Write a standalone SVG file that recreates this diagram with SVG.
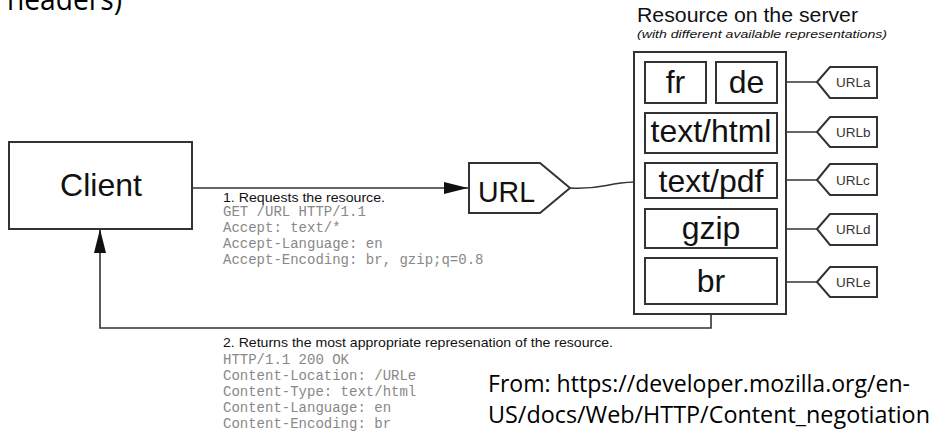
<svg xmlns="http://www.w3.org/2000/svg" width="938" height="436" viewBox="0 0 938 436">
<style>
.box{fill:#fff;stroke:#333;stroke-width:2}
.ln{fill:none;stroke:#333;stroke-width:1.6}
.sans{font-family:"Liberation Sans",Arial,sans-serif;fill:#111}
.big{font-size:32px;text-anchor:middle}
.tag{font-size:13.5px;fill:#333}
.mono{font-family:"Liberation Mono","Courier New",monospace;font-size:14px;fill:#888}
.lbl{font-size:13.5px}
.cal{font-family:"Open Sans","Noto Sans",sans-serif;fill:#000}
</style>
<defs>
<marker id="ah" viewBox="0 0 24 12" refX="24" refY="6" markerWidth="24" markerHeight="12" markerUnits="userSpaceOnUse" orient="auto">
<path d="M0,0 L24,6 L0,12 Z" fill="#111"/>
</marker>
</defs>
<rect width="938" height="436" fill="#fff"/>
<text class="cal" x="7" y="10" font-size="31" textLength="115" lengthAdjust="spacingAndGlyphs">headers)</text>

<g id="connectors">
<path class="ln" d="M192,188 H468" marker-end="url(#ah)"/>
<path class="ln" d="M570,188 C600,190 606,183 634,182"/>
<path class="ln" d="M777,82 H817"/>
<path class="ln" d="M777,132 H817"/>
<path class="ln" d="M777,180 H817"/>
<path class="ln" d="M777,229 H817"/>
<path class="ln" d="M777,282 H817"/>
<path class="ln" d="M711,304 V328 H100 V229" marker-end="url(#ah)"/>
</g>

<g id="client">
<rect class="box" x="9" y="142" width="183" height="87"/>
<text class="sans big" x="101" y="196">Client</text>
</g>

<g id="url">
<path class="box" d="M469,163 H540 L570,188 L540,213 H469 Z"/>
<text class="sans" x="478" y="202" font-size="30" textLength="57" lengthAdjust="spacingAndGlyphs">URL</text>
</g>

<g id="resource">
<text class="sans" x="637" y="22" font-size="19.5" textLength="221" lengthAdjust="spacingAndGlyphs">Resource on the server</text>
<text class="sans" x="637" y="38" font-size="11" font-style="italic" fill="#333" textLength="250" lengthAdjust="spacingAndGlyphs">(with different available representations)</text>
<rect class="box" x="634" y="52" width="152" height="262"/>
</g>

<g id="fr"><rect class="box" x="645" y="62" width="61" height="41"/><text class="sans big" x="675.5" y="93">fr</text></g>
<g id="de"><rect class="box" x="716" y="62" width="61" height="41"/><text class="sans big" x="746.5" y="93">de</text></g>
<g id="text-html"><rect class="box" x="645" y="113" width="132" height="40"/><text class="sans big" x="711" y="142">text/html</text></g>
<g id="text-pdf"><rect class="box" x="645" y="163" width="132" height="35"/><text class="sans big" x="711" y="192">text/pdf</text></g>
<g id="gzip"><rect class="box" x="645" y="209" width="132" height="39"/><text class="sans big" x="711" y="239">gzip</text></g>
<g id="br"><rect class="box" x="645" y="258" width="132" height="46"/><text class="sans big" x="711" y="292">br</text></g>

<g id="urla"><path class="box" d="M817,82 L830,67 H877 V98 H830 Z"/><text class="sans tag" x="836" y="87">URLa</text></g>
<g id="urlb"><path class="box" d="M817,132 L830,117 H877 V147 H830 Z"/><text class="sans tag" x="836" y="137">URLb</text></g>
<g id="urlc"><path class="box" d="M817,180 L830,164 H877 V195 H830 Z"/><text class="sans tag" x="836" y="185">URLc</text></g>
<g id="urld"><path class="box" d="M817,229 L830,214 H877 V245 H830 Z"/><text class="sans tag" x="836" y="234">URLd</text></g>
<g id="urle"><path class="box" d="M817,282 L830,267 H877 V297 H830 Z"/><text class="sans tag" x="836" y="287">URLe</text></g>

<g id="request-label">
<text class="sans lbl" x="223" y="202" textLength="162" lengthAdjust="spacingAndGlyphs">1. Requests the resource.</text>
<text class="mono" x="223" y="216">GET /URL HTTP/1.1</text>
<text class="mono" x="223" y="232">Accept: text/*</text>
<text class="mono" x="223" y="248">Accept-Language: en</text>
<text class="mono" x="223" y="264">Accept-Encoding: br, gzip;q=0.8</text>
</g>

<g id="response-label">
<text class="sans lbl" x="223" y="347" textLength="390" lengthAdjust="spacingAndGlyphs">2. Returns the most appropriate represenation of the resource.</text>
<text class="mono" x="223" y="364">HTTP/1.1 200 OK</text>
<text class="mono" x="223" y="380">Content-Location: /URLe</text>
<text class="mono" x="223" y="396">Content-Type: text/html</text>
<text class="mono" x="223" y="412">Content-Language: en</text>
<text class="mono" x="223" y="428">Content-Encoding: br</text>
</g>

<g id="source">
<text class="cal" x="488" y="392" font-size="23" textLength="422" lengthAdjust="spacingAndGlyphs">From: https://developer.mozilla.org/en-</text>
<text class="cal" x="488" y="423" font-size="23" textLength="442" lengthAdjust="spacingAndGlyphs">US/docs/Web/HTTP/Content_negotiation</text>
</g>
</svg>
